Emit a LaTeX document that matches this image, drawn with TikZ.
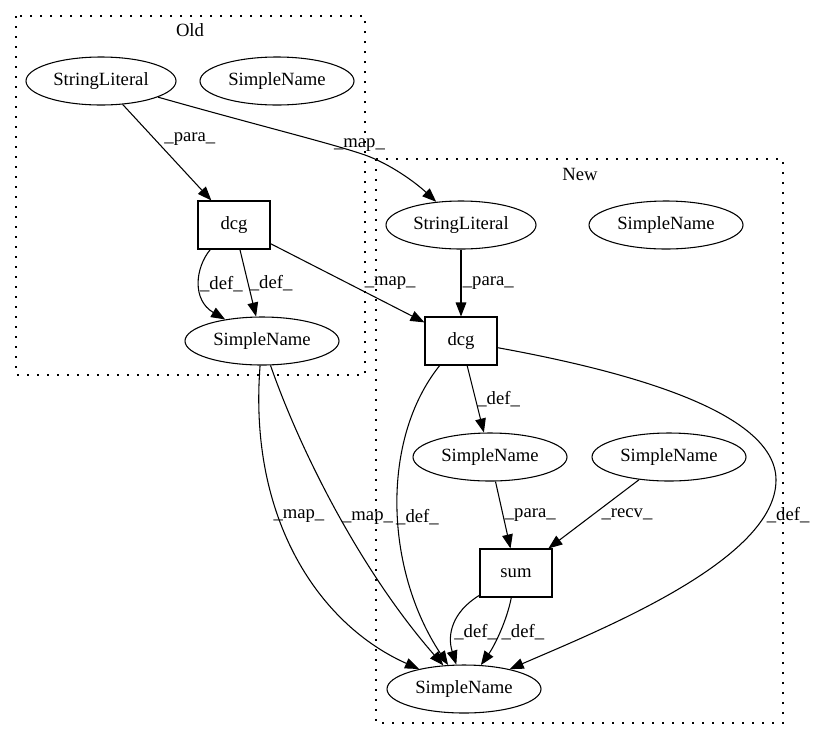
\documentclass[tikz,border=0pt]{standalone}
\usepackage{fontspec}
\setmainfont{Liberation Serif}
\usepackage{tikz}
\usetikzlibrary{arrows.meta,shapes.geometric}
\tikzstyle{ast}=[ellipse, draw, line width=0.8pt, inner sep=0pt,% plain ellipse for AST nodes
minimum width=115.5pt, minimum height=36pt]
\tikzstyle{op}=[rectangle, draw, line width=0.8pt, inner sep=0pt, minimum width=54pt, minimum height=36pt]
\tikzstyle{dgraph}=[->, line width=0.8pt]
\tikzstyle{elbl}=[inner sep=1pt]
\tikzstyle{cluster}=[line width=1.1pt, dash pattern=on 1.2pt off 6.3pt]

\begin{document}
\begin{tikzpicture}[x=0.75pt, y=-0.75pt, font=\fontsize{14}{16}\selectfont, >={Triangle[length=10.5pt,width=8pt]}]
\useasboundingbox (0,0) rectangle (816,740);
\draw[cluster] (16,16) rectangle (365,375);
\node (old) at (190,30) {Old};
\draw[cluster] (376,159) rectangle (783,723);
\node (new) at (580,174) {New};

\node[ast, minimum width=112.5pt] (sl1) at (101,81) {StringLiteral};
\node[ast] (sn1) at (277,81) {SimpleName};
\node[op] (dcg1) at (234,225) {dcg};
\node[ast] (sn2) at (262,341) {SimpleName};

\node[ast, minimum width=112.5pt] (sl2) at (461,225) {StringLiteral};
\node[ast] (sn3) at (666,225) {SimpleName};
\node[op] (dcg2) at (461,341) {dcg};
\node[ast] (sn4) at (490,457) {SimpleName};
\node[ast] (sn5) at (669,457) {SimpleName};
\node[op] (sum) at (516,573) {sum};
\node[ast] (sn6) at (464,689) {SimpleName};

\draw[dgraph] (sl1) -- node[elbl, pos=0.36, anchor=west, xshift=6pt] {\_para\_} (dcg1);
\draw[dgraph] (sl1) .. controls (260,126) and (330,143) .. (365,155) node[elbl, pos=0.95, above] {\_map\_}
  .. controls (390,164) and (415,182) .. (sl2);
\draw[dgraph] (dcg1.-134) .. controls (195,268) and (192,300) .. (sn2) node[elbl, pos=0.5, anchor=west, xshift=-1pt] {\_def\_};
\draw[dgraph] (dcg1) -- node[elbl, pos=0.5, anchor=west] {\_def\_} (sn2);
\draw[dgraph] (dcg1) -- node[elbl, pos=0.6, anchor=south west] {\_map\_} (dcg2);
\draw[dgraph] (sl2) -- node[elbl, pos=0.5, anchor=west] {\_para\_} (dcg2);
\draw[dgraph] (dcg2) -- node[elbl, pos=0.5, anchor=west] {\_def\_} (sn4);
\draw[dgraph] (dcg2.-131) .. controls (380,440) and (385,570) .. (sn6) node[elbl, pos=0.53, anchor=west, xshift=-3pt] {\_def\_};
\draw[dgraph] (dcg2) .. controls (620,370) and (776,410) .. (776,480)
  .. controls (776,560) and (600,630) .. (sn6) node[elbl, pos=0.15, anchor=west] {\_def\_};
\draw[dgraph] (sn4) -- node[elbl, pos=0.5, anchor=west] {\_para\_} (sum);
\draw[dgraph] (sn5) -- node[elbl, pos=0.5, anchor=west, xshift=4.5pt] {\_recv\_} (sum);
\draw[dgraph] (sum) .. controls (452,612) and (447,635) .. (sn6) node[elbl, pos=0.6, anchor=west] {\_def\_};
\draw[dgraph] (sum) .. controls (507,620) and (495,645) .. (sn6) node[elbl, pos=0.5, anchor=west] {\_def\_};
\draw[dgraph] (sn2) .. controls (248,520) and (320,625) .. (sn6) node[elbl, pos=0.37, anchor=west, xshift=-5pt] {\_map\_};
\draw[dgraph] (sn2) .. controls (300,450) and (360,570) .. (sn6) node[elbl, pos=0.52, anchor=west] {\_map\_};
\end{tikzpicture}
\end{document}
